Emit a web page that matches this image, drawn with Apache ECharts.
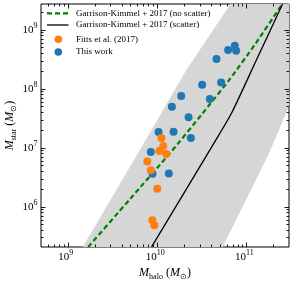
<!DOCTYPE html>
<html><head><meta charset="utf-8">
<script src="https://cdn.jsdelivr.net/npm/echarts@6/dist/echarts.min.js"></script>
<style>html,body{margin:0;padding:0;background:#fff}#c{width:293px;height:281px}</style>
</head><body><div id="c"></div>
<script>
// ---- data (log10 of masses in solar masses) ----
const fittsLogMhalo = [10.047, 10.069, 10.025, 10.103, 9.890, 9.929, 10.002, 9.946, 9.969];
const fittsLogMstar = [7.163, 7.027, 6.942, 6.891, 6.764, 6.619, 6.304, 5.769, 5.684];
const thisLogMhalo = [10.870, 10.795, 10.885, 10.665, 10.504, 10.717, 10.269, 10.590, 10.165, 10.352, 10.016, 10.184, 10.377, 9.929, 9.948, 10.131];
const thisLogMstar = [8.728, 8.655, 8.643, 8.502, 8.065, 8.104, 7.878, 7.827, 7.696, 7.515, 7.265, 7.270, 7.163, 6.925, 6.560, 6.563];
const gkNoScatterLogMhalo = [9.228, 9.7, 10.142, 10.5, 10.814, 11.1, 11.401];
const gkNoScatterLogMstar = [5.317, 6.136, 6.903, 7.565, 8.162, 8.76, 9.435];
const gkScatterLogMhalo = [9.938, 10.657, 10.833, 11.113, 11.405];
const gkScatterLogMstar = [5.317, 7.129, 7.583, 8.49, 9.435];
// band outline: upper-left edge bottom->top, then lower-right edge top->bottom
const bandLogMhalo = [9.122, 9.165, 9.806, 10.329, 10.822, 11.1, 12.0, 11.6, 11.449, 11.318, 11.217, 10.732, 10.696];
const bandLogMstar = [5.2, 5.31, 6.959, 8.32, 9.437, 10.07, 10.07, 8.2, 7.611, 7.129, 6.789, 5.31, 5.2];
const xMajorTickExp = [9, 10, 11];
const yMajorTickExp = [6, 7, 8, 9];
const xLogMin = Math.log10(5e8), xLogMax = Math.log10(3e11);
const yLogMin = Math.log10(2.07e5), yLogMax = Math.log10(2.73e9);
const legendNames = ['Garrison-Kimmel + 2017 (no scatter)', 'Garrison-Kimmel + 2017 (scatter)', 'Fitts et al. (2017)', 'This work'];

(function () {
const FF = 'Liberation Serif';
const pairs = (a, b) => a.map((v, i) => [v, b[i]]);
function minorExps(lo, hi) {
  const out = [];
  for (let n = Math.floor(lo); n <= Math.ceil(hi); n++)
    for (let k = 2; k <= 9; k++) { const v = n + Math.log10(k); if (v > lo && v < hi) out.push(v); }
  return out;
}
const nameRich = {
  i: {fontSize: 12, fontFamily: FF, fontStyle: 'italic', color: '#000', lineHeight: 16},
  n: {fontSize: 12, fontFamily: FF, color: '#000', lineHeight: 16},
  u: {fontSize: 8, fontFamily: FF, color: '#000', lineHeight: 8, verticalAlign: 'bottom'}
};
const supRich = {
  b: {fontSize: 11, fontFamily: FF, fill: '#000', lineHeight: 16},
  s: {fontSize: 8, fontFamily: FF, fill: '#000', lineHeight: 8, verticalAlign: 'top'}
};

const chart = echarts.init(document.getElementById('c'), null, {renderer: 'canvas'});
chart.setOption({
  animation: false,
  backgroundColor: '#fff',
  grid: {left: 41, right: 4, top: 4, bottom: 34, containLabel: false, outerBoundsMode: 'none',
    show: true, borderColor: '#000', borderWidth: 1, backgroundColor: 'transparent'},
  xAxis: {type: 'value', min: xLogMin, max: xLogMax,
    axisLine: {show: false}, axisTick: {show: false}, splitLine: {show: false}, axisLabel: {show: false},
    name: '{i|M}{u|halo}{n| (}{i|M}{u|⊙}{n|)}', nameLocation: 'middle', nameGap: 18,
    nameTextStyle: {rich: nameRich}},
  yAxis: {type: 'value', min: yLogMin, max: yLogMax,
    axisLine: {show: false}, axisTick: {show: false}, splitLine: {show: false}, axisLabel: {show: false},
    name: '{i|M}{u|star}{n| (}{i|M}{u|⊙}{n|)}', nameLocation: 'middle', nameGap: 23,
    nameTextStyle: {rich: nameRich}},
  series: [
    {type: 'custom', name: 'band', silent: true, clip: true, z: 1,
      data: [[bandLogMhalo[1], bandLogMstar[1]]],
      renderItem(params, api) {
        const pts = bandLogMhalo.map((v, i) => api.coord([v, bandLogMstar[i]]));
        return {type: 'polygon', shape: {points: pts}, style: {fill: '#d6d6d6'}};
      }},
    {type: 'line', name: legendNames[0], data: pairs(gkNoScatterLogMhalo, gkNoScatterLogMstar),
      symbol: 'none', smooth: 0.2, z: 3, lineStyle: {color: '#008000', width: 2.2, type: [5, 3]}},
    {type: 'line', name: legendNames[1], data: pairs(gkScatterLogMhalo, gkScatterLogMstar),
      symbol: 'none', smooth: 0.2, z: 3, lineStyle: {color: '#000', width: 1.3}},
    {type: 'scatter', name: legendNames[3], data: pairs(thisLogMhalo, thisLogMstar), symbolSize: 8, z: 4,
      itemStyle: {color: '#1f77b4', opacity: 1}},
    {type: 'scatter', name: legendNames[2], data: pairs(fittsLogMhalo, fittsLogMstar), symbolSize: 8, z: 5,
      itemStyle: {color: '#ff7f0e', opacity: 1}}
  ]
});

// ---- ticks, tick labels and legend drawn from the axes' own scales ----
const px = (x, y) => chart.convertToPixel({xAxisIndex: 0, yAxisIndex: 0}, [x, y]);
const p0 = px(xLogMin, yLogMin), p1 = px(xLogMax, yLogMax);
const gL = p0[0], gB = p0[1], gR = p1[0], gT = p1[1];
const g = [];
const st = () => ({stroke: '#000', lineWidth: 0.9});
const addX = (e, L) => { const x = Math.round(px(e, yLogMin)[0]) + 0.5;
  g.push({type: 'line', z: 50, shape: {x1: x, y1: gB, x2: x, y2: gB - L}, style: st()});
  g.push({type: 'line', z: 50, shape: {x1: x, y1: gT, x2: x, y2: gT + L}, style: st()}); };
const addY = (e, L) => { const y = Math.round(px(xLogMin, e)[1]) + 0.5;
  g.push({type: 'line', z: 50, shape: {x1: gL, y1: y, x2: gL + L, y2: y}, style: st()});
  g.push({type: 'line', z: 50, shape: {x1: gR, y1: y, x2: gR - L, y2: y}, style: st()}); };
xMajorTickExp.forEach(e => addX(e, 4.5)); minorExps(xLogMin, xLogMax).forEach(e => addX(e, 2.5));
yMajorTickExp.forEach(e => addY(e, 4.5)); minorExps(yLogMin, yLogMax).forEach(e => addY(e, 2.5));
xMajorTickExp.forEach(e => { const x = px(e, yLogMin)[0];
  g.push({type: 'text', z: 50, x: x - 2, y: gB + 10, style: {text: '{b|10}{s|' + e + '}', rich: supRich, align: 'center', verticalAlign: 'middle'}}); });
yMajorTickExp.forEach(e => { const y = px(xLogMin, e)[1];
  g.push({type: 'text', z: 50, x: gL - 3.5, y: y, style: {text: '{b|10}{s|' + e + '}', rich: supRich, align: 'right', verticalAlign: 'middle'}}); });
// legend
const lx0 = 47, lx1 = 68.5, tx = 76, rows = [13.3, 25, 39.3, 52];
g.push({type: 'line', z: 50, shape: {x1: lx0, y1: rows[0], x2: lx1, y2: rows[0]}, style: {stroke: '#008000', lineWidth: 2.2, lineDash: [5, 3]}});
g.push({type: 'line', z: 50, shape: {x1: lx0, y1: rows[1], x2: lx1, y2: rows[1]}, style: {stroke: '#000', lineWidth: 1.3}});
g.push({type: 'circle', z: 50, shape: {cx: 58.3, cy: rows[2], r: 3.8}, style: {fill: '#ff7f0e'}});
g.push({type: 'circle', z: 50, shape: {cx: 58.3, cy: rows[3], r: 3.8}, style: {fill: '#1f77b4'}});
legendNames.forEach((n, i) => g.push({type: 'text', z: 50, x: tx, y: rows[i],
  style: {text: n, fontFamily: FF, fontSize: 9, fill: '#000', verticalAlign: 'middle', align: 'left'}}));
chart.setOption({graphic: g});
})();
</script></body></html>
